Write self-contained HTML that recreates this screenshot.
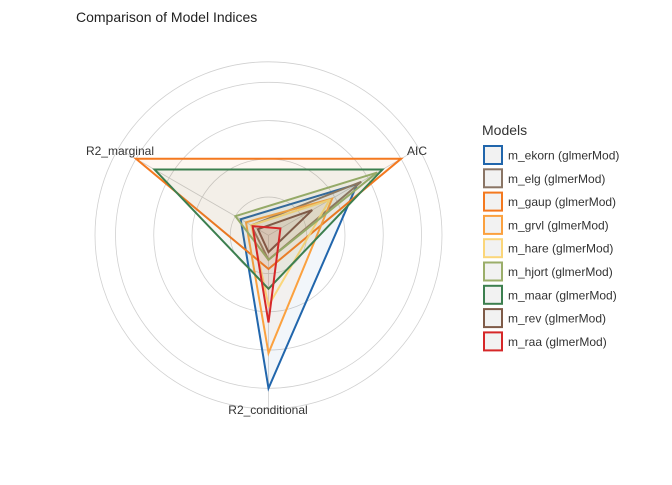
<!DOCTYPE html>
<html><head><meta charset="utf-8"><style>
body{margin:0;background:#fff;width:672px;height:480px;overflow:hidden;font-family:"Liberation Sans",Arial,sans-serif}
svg text{font-family:"Liberation Sans",Arial,sans-serif}
</style></head><body>
<svg id="chart" width="672" height="480">
<text x="76" y="22" font-size="14" fill="#222">Comparison of Model Indices</text>
<g id="grid"></g><g id="series"></g><g id="labels"></g><g id="legend"></g>
</svg>
<script>
const axes = ["AIC", "R2_conditional", "R2_marginal"];
const models = ["m_ekorn (glmerMod)","m_elg (glmerMod)","m_gaup (glmerMod)","m_grvl (glmerMod)","m_hare (glmerMod)","m_hjort (glmerMod)","m_maar (glmerMod)","m_rev (glmerMod)","m_raa (glmerMod)"];
const aicVals = [0.67, 0.70, 1.00, 0.48, 0.46, 0.82, 0.86, 0.33, 0.09];
const r2cVals = [1.00, 0.16, 0.22, 0.77, 0.46, 0.16, 0.35, 0.11, 0.57];
const r2mVals = [0.21, 0.13, 1.00, 0.17, 0.13, 0.25, 0.86, 0.08, 0.12];
const colors = ["#2166ac","#8a7565","#f4791f","#fba13f","#fbd67a","#9bae6a","#3c7f4f","#7f5b48","#d62728"];
const gridLevels = [0.25, 0.5, 0.75, 1.0];

const NS="http://www.w3.org/2000/svg";
const cx=268.5, cy=235.3, R=153;
const angles=[-30, 90, 210];
function pt(v,i){const a=angles[i]*Math.PI/180;return [cx+Math.cos(a)*v*R, cy+Math.sin(a)*v*R];}
function mk(tag,attrs,parent){const e=document.createElementNS(NS,tag);for(const k in attrs)e.setAttribute(k,attrs[k]);parent.appendChild(e);return e;}
const grid=document.getElementById('grid');
[...gridLevels, 173.5/R].forEach((l,i)=>{
  const c=mk('circle',{cx:cx,cy:cy,r:l*R,fill:'none',stroke:'#d0d0d0','stroke-width':0.8},grid);
  
  
});
axes.forEach((a,i)=>{
  const p=pt(173.5/R,i);
  const l=mk('line',{x1:cx,y1:cy,x2:p[0],y2:p[1],stroke:'#d0d0d0','stroke-width':0.8},grid);
  
  
});
const ser=document.getElementById('series');
models.forEach((m,k)=>{
  const vals=[aicVals[k],r2cVals[k],r2mVals[k]];
  const pts=vals.map((v,i)=>pt(v,i).join(',')).join(' ');
  const p=mk('polygon',{points:pts,fill:colors[k],'fill-opacity':0.06,stroke:colors[k],'stroke-width':2,'stroke-linejoin':'miter'},ser);
  
  
});
const lab=document.getElementById('labels');
const lp=[[407,155,'start'],[268,414,'middle'],[154,155,'end']];
axes.forEach((a,i)=>{
  const t=mk('text',{x:lp[i][0],y:lp[i][1],'text-anchor':lp[i][2],'font-size':12,fill:'#333'},lab);
  t.textContent=a;
  
  
});
const leg=document.getElementById('legend');
const lt=mk('text',{x:482,y:135,'font-size':14,fill:'#333'},leg);
lt.textContent='Models';


models.forEach((m,k)=>{
  const y=155+k*23.3;
  const r=mk('rect',{x:484,y:y-9,width:18,height:18,fill:'#f2f2f2',stroke:colors[k],'stroke-width':2},leg);
  
  
  const t=mk('text',{x:508,y:y+4.5,'font-size':12,fill:'#333'},leg);
  t.textContent=m;
  
  
});
</script>
</body></html>
